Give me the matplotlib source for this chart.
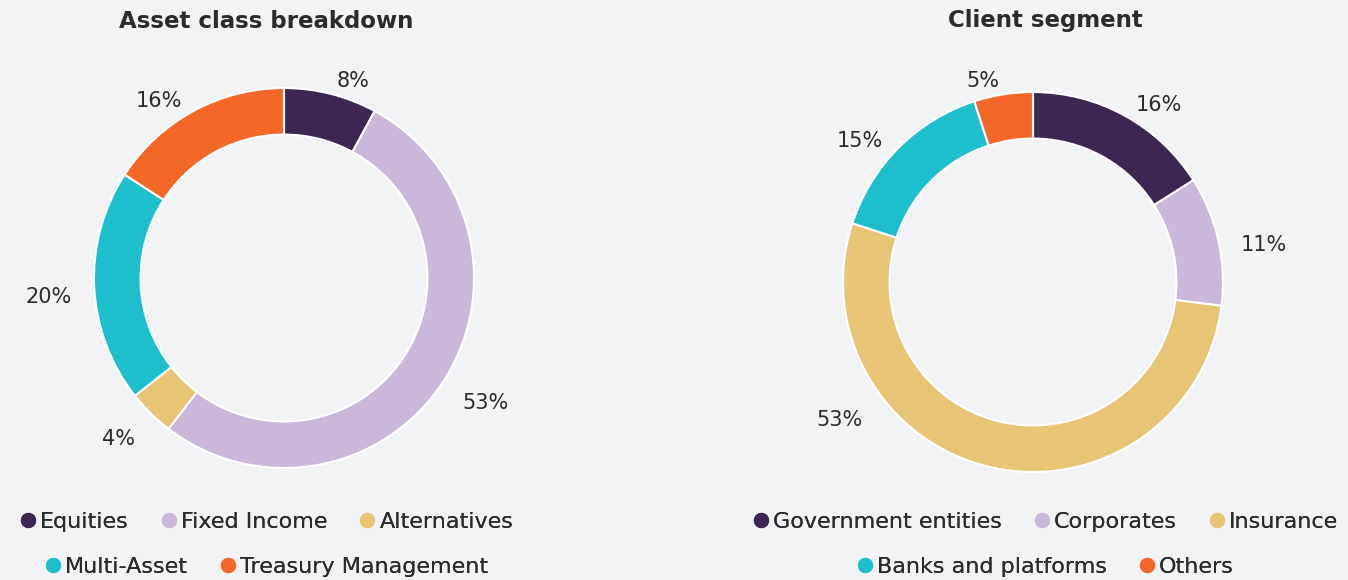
import numpy as np
import matplotlib.pyplot as plt
from matplotlib.lines import Line2D

BG = "#f2f3f5"
TEXT = "#2b2b2b"

asset_labels = ["Equities", "Fixed Income", "Alternatives", "Multi-Asset", "Treasury Management"]
asset_values = [8, 53, 4, 20, 16]

client_labels = ["Government entities", "Corporates", "Insurance", "Banks and platforms", "Others"]
client_values = [16, 11, 53, 15, 5]

colors = ["#3d2752", "#cbb7d9", "#e8c475", "#1dbfcd", "#f56726"]

plt.rcParams["font.family"] = ["DejaVu Sans"]

fig = plt.figure(figsize=(13.48, 5.8), dpi=100, facecolor=BG)

W, H = 1348, 580
R = 190  # outer radius in px
LIM = 1.4


def donut(cx, cy, values, title, labels, title_x, moved=None):
    size = 2 * R * LIM
    ax = fig.add_axes([(cx - size / 2) / W, (H - cy - size / 2) / H, size / W, size / H])
    ax.set_facecolor("none")
    wedges, texts = ax.pie(values, colors=colors, startangle=90, counterclock=False,
                           labels=[f"{v}%" for v in values], labeldistance=1.12,
                           textprops=dict(fontsize=15, color=TEXT),
                           wedgeprops=dict(width=0.245, edgecolor="white", linewidth=1.5))
    # nudge labels a touch lower, like the reference
    for i, t in enumerate(texts):
        x, y = t.get_position()
        if moved and i in moved:
            a = np.deg2rad(90 - moved[i])
            x, y = 1.12 * np.cos(a), 1.12 * np.sin(a)
            t.set_ha("right" if x < 0 else "left")
        t.set_position((x, y - 0.05))
    ax.set_xlim(-LIM, LIM)
    ax.set_ylim(-LIM, LIM)
    ax.set_aspect("equal")
    ax.axis("off")
    fig.text(title_x / W, 1 - 21 / H, title, ha="center", va="center",
             fontsize=16.5, fontweight="bold", color=TEXT)

    handles = [Line2D([], [], marker="o", linestyle="none", markersize=11,
                      markerfacecolor=c, markeredgecolor="none") for c in colors]
    rows = [(handles[:3], labels[:3], 522), (handles[3:], labels[3:], 567)]
    for hs, ls, y in rows:
        leg = fig.legend(hs, ls, loc="center", bbox_to_anchor=(title_x / W, 1 - y / H),
                         ncol=len(hs), frameon=False, fontsize=16, handletextpad=0.15,
                         columnspacing=1.4, handlelength=0.8, labelcolor=TEXT)
        fig.add_artist(leg)


donut(284, 278, asset_values, "Asset class breakdown", asset_labels, 266)
# the 53% label on the right chart sits lower-left (about 233 deg from top)
donut(1033, 282, client_values, "Client segment", client_labels, 1045, moved={2: 233})

fig.savefig("out.png", dpi=100, facecolor=BG)
